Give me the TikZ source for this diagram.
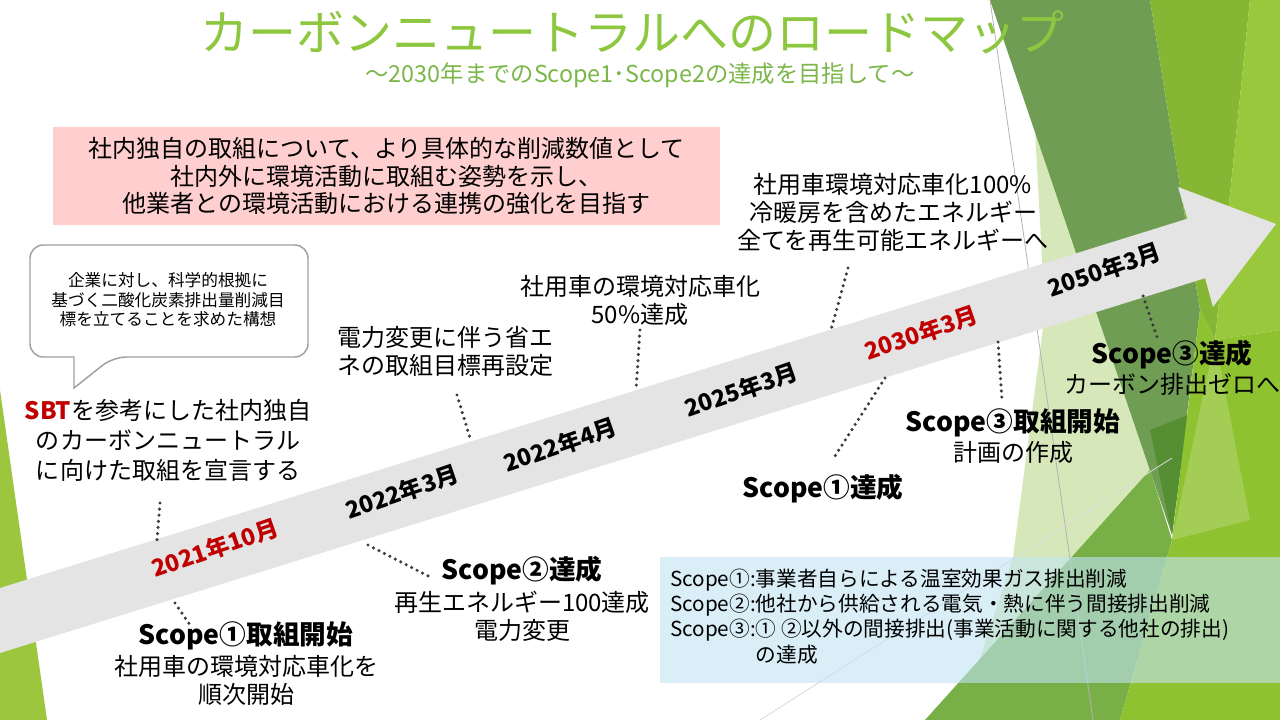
\documentclass[tikz,border=0pt]{standalone}
\usepackage{fontspec}
\setmainfont{Noto Sans CJK JP}
\newcommand\myfs[2]{\fontsize{#1}{#2}\selectfont}
\definecolor{leftgreen}{RGB}{155,198,62}
\definecolor{darkband}{RGB}{111,157,83}
\definecolor{darkcore}{RGB}{86,142,52}
\definecolor{midgreen}{RGB}{134,183,52}
\definecolor{lightgreen}{RGB}{153,200,60}
\definecolor{palegreen}{RGB}{214,232,186}
\definecolor{lowgreen}{RGB}{120,175,70}
\definecolor{brightgreen}{RGB}{143,194,48}
\definecolor{titlegreen}{RGB}{141,198,63}
\definecolor{subgreen}{RGB}{122,182,72}
\definecolor{arrowgrey}{RGB}{228,228,228}
\definecolor{pinkc}{RGB}{255,206,206}
\definecolor{legendblue}{RGB}{193,227,243}
\definecolor{sbtred}{RGB}{192,0,0}
\definecolor{dotgrey}{RGB}{60,60,60}
\definecolor{bubbleline}{RGB}{160,160,160}
\begin{document}
\begin{tikzpicture}[x=0.75pt,y=-0.75pt,
  txt/.style={font=\myfs{18pt}{21pt}, align=center, inner sep=0pt},
  head/.style={font=\bfseries\myfs{20pt}{24pt}, inner sep=0pt},
  date/.style={font=\bfseries\myfs{17.5pt}{20pt}, rotate=19, inner sep=0pt},
  dots/.style={draw=dotgrey, line width=2.6pt, line cap=round, dash pattern=on 0pt off 4.6pt},
  thinline/.style={line width=0.6pt}]
\useasboundingbox (0,0) rectangle (1280,720);
\begin{scope}
\clip (0,0) rectangle (1280,720);
% background facets
\fill[palegreen] (1035,130) -- (1100,310) -- (1172,540) -- (980,720) -- (960,720) -- (1013,557) -- (1045,313) -- cycle;
\fill[darkband] (990,0) -- (1150,0) -- (1200,310) -- (1172,535) -- cycle;
\fill[midgreen] (1150,0) -- (1250,0) -- (1215,340) -- (1200,310) -- cycle;
\fill[lightgreen] (1250,0) -- (1280,0) -- (1280,330) -- (1215,340) -- cycle;
\fill[darkcore] (1150,430) -- (1188,415) -- (1172,535) -- cycle;
\fill[lowgreen] (925,720) -- (1150,470) -- (1172,540) -- (1120,720) -- cycle;
\fill[brightgreen] (1120,720) -- (1172,540) -- (1200,310) -- (1215,340) -- (1280,330) -- (1280,720) -- cycle;
\fill[white, opacity=0.18] (1172,540) -- (1215,340) -- (1250,520) -- cycle;
\draw[thinline, draw=black!30] (990,0) -- (1093,720);
\draw[thinline, draw=black!15] (760,720) -- (1172,458);
\fill[leftgreen] (0,390) -- (47,720) -- (0,720) -- cycle;
% arrow
\fill[arrowgrey] (-10,591.1) -- (1187.4,218.7) -- (1178,187) -- (1276,224) -- (1213,307) -- (1205.1,278.2) -- (-10,656.1) -- cycle;
\end{scope}
% title
\node[font=\myfs{36pt}{40pt}, text=titlegreen, inner sep=0pt] (title) at (632,32) {カーボンニュートラルへのロードマップ};
\node[font=\myfs{17.5pt}{20pt}, text=subgreen, inner sep=0pt] (subtitle) at (640,75) {～2030年までのScope1･Scope2の達成を目指して～};
% goal box
\node[fill=pinkc, minimum width=500.25pt, minimum height=73.5pt, inner sep=0pt, align=center, font=\myfs{18pt}{20.6pt}] (goal) at (386.5,176) {社内独自の取組について、より具体的な削減数値として\\社内外に環境活動に取組む姿勢を示し、\\他業者との環境活動における連携の強化を目指す};
% bubble
\draw[draw=bubbleline, line width=1.1pt, fill=white, rounded corners=10pt] (200,245) -- (308,245) -- (308,357) -- (113,357) [sharp corners] -- (74,388) -- (74,357) [rounded corners=10pt] -- (30,357) -- (30,245) -- cycle;
\node[font=\myfs{12.5pt}{14.6pt}, align=center, inner sep=0pt] (sbtnote) at (168,300) {企業に対し、科学的根拠に\\基づく二酸化炭素排出量削減目\\標を立てることを求めた構想};
\node[txt, font=\myfs{18pt}{22.5pt}] (sbt) at (168,440) {\textcolor{sbtred}{\bfseries SBT}を参考にした社内独自\\のカーボンニュートラル\\に向けた取組を宣言する};
% dates
\node[date, text=sbtred] (d1) at (215,548) {2021年10月};
\node[date] (d2) at (402,492) {2022年3月};
\node[date] (d3) at (560,445) {2022年4月};
\node[date] (d4) at (741,390) {2025年3月};
\node[date, text=sbtred] (d5) at (921,333) {2030年3月};
\node[date] (d6) at (1104,270) {2050年3月};
% event texts
\node[head] (s1start) at (246,636) {Scope①取組開始};
\node[txt] (s1body) at (246,680) {社用車の環境対応車化を\\順次開始};
\node[head] (s2done) at (522,571) {Scope②達成};
\node[txt] (s2body) at (522,616) {再生エネルギー100達成\\電力変更};
\node[txt] (power) at (445,351) {電力変更に伴う省エ\\ネの取組目標再設定};
\node[txt] (car50) at (640,300) {社用車の環境対応車化\\50\%達成};
\node[txt] (car100) at (893,212) {社用車環境対応車化100\%\\冷暖房を含めたエネルギー\\全てを再生可能エネルギーへ};
\node[head] (s1done) at (823,489) {Scope①達成};
\node[head] (s3start) at (1013,423) {Scope③取組開始};
\node[txt] (s3body) at (1013,452) {計画の作成};
\node[head] (s3done) at (1172,355) {Scope③達成};
\node[txt] (s3zero) at (1172,384) {カーボン排出ゼロへ};
% connector end points
\coordinate (a1) at (160,503); \coordinate (b1) at (157,540);
\coordinate (a2) at (175,603); \coordinate (b2) at (190,625);
\coordinate (a3) at (368,545); \coordinate (b3) at (432,578);
\coordinate (a4) at (457,395); \coordinate (b4) at (470,438);
\coordinate (a5) at (640,330); \coordinate (b5) at (636,390);
\coordinate (a6) at (848,268); \coordinate (b6) at (831,330);
\coordinate (a7) at (885,378); \coordinate (b7) at (835,456);
\coordinate (a8) at (998,342); \coordinate (b8) at (1002,400);
\coordinate (a9) at (1143,296); \coordinate (b9) at (1158,340);
\foreach \i in {1,...,9} {\draw[dots] (a\i) -- (b\i);}
% legend
\node[fill=legendblue, fill opacity=0.6, minimum width=465pt, minimum height=94.5pt, inner sep=0pt, anchor=north west] (legend) at (660,557) {};
\node[anchor=west, inner sep=0pt, font=\myfs{15.5pt}{19pt}] (legendtext) at (670,619) {\begin{tabular}{@{}l@{}l@{}}Scope①: & 事業者自らによる温室効果ガス排出削減\\ Scope②: & 他社から供給される電気・熱に伴う間接排出削減\\ Scope③: & ① ②以外の間接排出(事業活動に関する他社の排出)\\ & の達成\end{tabular}};
\end{tikzpicture}
\end{document}
